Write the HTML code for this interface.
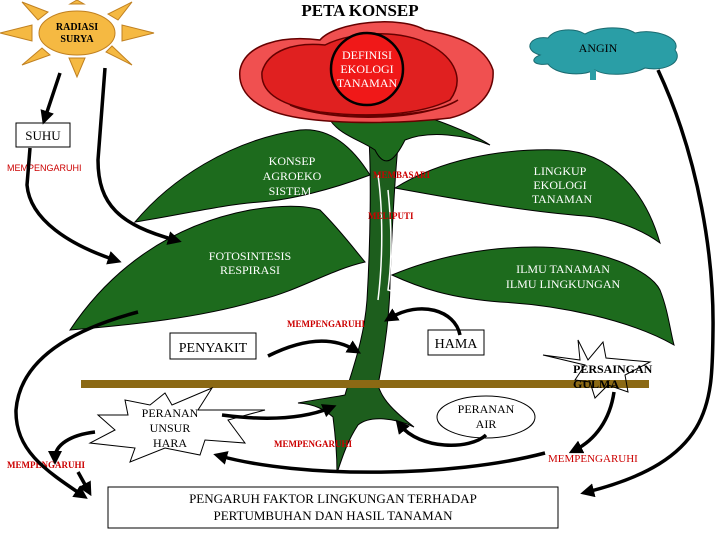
<!DOCTYPE html>
<html><head><meta charset="utf-8"><style>
body{margin:0;background:#fff;width:720px;height:540px;overflow:hidden}
svg{display:block}
.t{font-family:"Liberation Serif",serif}
.s{font-family:"Liberation Sans",sans-serif}
</style></head><body>
<svg width="720" height="540" viewBox="0 0 720 540" xmlns="http://www.w3.org/2000/svg">
<defs><marker id="a" markerWidth="4" markerHeight="4" refX="2" refY="2" orient="auto"><path d="M0,0 L4,2 L0,4z" fill="#000"/></marker></defs>
<text x="360" y="16" text-anchor="middle" class="t" font-size="17" font-weight="bold">PETA  KONSEP</text>
<!-- sun -->
<g fill="#f5b942" stroke="#c08020" stroke-width="1">
<polygon points="77,0 84,4 70,4"/><polygon points="77,77 69,58 85,58"/>
<polygon points="0,33 32,25 32,41"/><polygon points="154,33 122,25 122,41"/>
<polygon points="22,2 48,12 38,20"/><polygon points="132,2 108,14 118,20"/>
<polygon points="22,65 42,48 50,55"/><polygon points="132,65 106,52 112,46"/>
<ellipse cx="77" cy="33" rx="38" ry="22"/></g>
<text x="77" y="30" text-anchor="middle" class="t" font-size="10" font-weight="bold">RADIASI</text>
<text x="77" y="42" text-anchor="middle" class="t" font-size="10" font-weight="bold">SURYA</text>
<!-- cloud -->
<path d="M540,55 C522,50 530,35 548,38 C555,28 575,28 585,34 C600,26 625,26 635,33 C655,28 682,38 675,50 C684,62 665,72 645,68 C630,76 605,76 595,70 C580,77 555,74 548,64 C535,66 528,60 540,55z" fill="#2a9ea6" stroke="#1a6a70"/>
<path d="M590,70 L590,80 L596,80 L596,70z" fill="#2a9ea6"/>
<text x="598" y="52" text-anchor="middle" class="t" font-size="12">ANGIN</text>
<!-- stem -->
<path d="M368,125 C372,170 370,250 367,300 C364,340 352,370 345,395 C330,398 312,400 298,403 C315,404 325,410 333,417 C336,440 337,455 337,473 C343,455 348,440 358,425 C370,415 395,418 414,427 C395,412 382,400 378,385 C385,350 390,310 390,280 C392,230 395,170 400,125z" fill="#1d5e1d" stroke="#000"/>
<path d="M378,175 C383,210 383,260 378,300 M388,190 C392,230 392,260 388,290 L395,292" stroke="#fff" stroke-width="1.5" fill="none"/>
<!-- leaves -->
<g fill="#1d6b1d" stroke="#000" stroke-width="1">
<path d="M135,222 C170,180 230,140 300,130 C320,128 345,135 370,175 C330,190 290,200 260,202 C220,205 180,215 135,222z"/>
<path d="M70,330 C110,270 170,225 250,210 C280,205 305,205 320,210 C340,230 355,250 365,262 C330,270 300,290 260,300 C200,318 130,325 70,330z"/>
<path d="M395,188 C440,160 500,148 560,150 C610,152 645,190 660,243 C640,228 610,218 585,216 C530,212 460,200 395,188z"/>
<path d="M392,275 C440,255 490,247 535,247 C600,247 650,270 660,290 C668,310 670,330 674,345 C630,320 560,305 500,302 C450,298 420,288 392,275z"/>
<path d="M330,120 C345,108 400,108 430,118 C450,125 475,135 490,145 C465,135 430,130 405,140 C395,160 385,170 375,150 C360,140 340,135 330,120z"/>
</g>
<!-- rose -->
<g stroke="#600" stroke-width="1.5">
<path d="M240,70 C245,45 280,35 320,40 C335,22 400,15 425,30 C455,35 485,45 493,70 C495,95 475,112 450,118 C400,124 340,124 300,118 C260,112 237,95 240,70z" fill="#f05050"/>
<path d="M262,72 C268,50 295,42 325,45 C355,30 405,30 430,45 C455,58 465,80 450,100 C420,115 370,118 320,112 C285,106 260,95 262,72z" fill="#e02020"/>
<path d="M290,105 C330,122 420,122 458,100 C440,112 400,116 360,116 C330,116 305,112 290,105z" fill="#901010"/>
</g>
<circle cx="367" cy="69" r="36" fill="#f01818" stroke="#000" stroke-width="2.5"/>
<g class="t" font-size="12" fill="#fff" text-anchor="middle"><text x="367" y="59">DEFINISI</text><text x="367" y="73">EKOLOGI</text><text x="367" y="87">TANAMAN</text></g>
<!-- leaf texts -->
<g class="t" font-size="12" fill="#fff" text-anchor="middle">
<text x="292" y="165">KONSEP</text><text x="292" y="180">AGROEKO</text><text x="290" y="195">SISTEM</text>
<text x="560" y="175">LINGKUP</text><text x="560" y="189">EKOLOGI</text><text x="562" y="203">TANAMAN</text>
<text x="250" y="260">FOTOSINTESIS</text><text x="250" y="274">RESPIRASI</text>
<text x="563" y="273">ILMU TANAMAN</text><text x="563" y="288">ILMU LINGKUNGAN</text>
</g>
<g class="t" font-size="9" fill="#c00" font-weight="bold"><text x="373" y="178">MEMBASARI</text><text x="368" y="219">MELIPUTI</text><text x="287" y="327">MEMPENGARUHI</text><text x="274" y="447">MEMPENGARUHI</text><text x="7" y="468">MEMPENGARUHI</text></g>
<text x="548" y="462" class="t" font-size="11" fill="#c00">MEMPENGARUHI</text>
<text x="7" y="171" class="s" font-size="9" fill="#c00">MEMPENGARUHI</text>
<!-- boxes -->
<rect x="16" y="123" width="54" height="24" fill="#fff" stroke="#000"/><text x="43" y="140" text-anchor="middle" class="t" font-size="13">SUHU</text>
<rect x="170" y="333" width="86" height="26" fill="#fff" stroke="#000"/><text x="213" y="352" text-anchor="middle" class="t" font-size="14">PENYAKIT</text>
<rect x="428" y="330" width="56" height="25" fill="#fff" stroke="#000"/><text x="456" y="348" text-anchor="middle" class="t" font-size="14">HAMA</text>
<rect x="81" y="380" width="568" height="8" fill="#8b6914"/>
<!-- stars -->
<polygon points="165,393 172,405 212,388 198,410 265,410 228,420 245,443 205,440 200,455 165,448 130,462 135,448 90,443 115,430 98,415 128,415 125,400 150,405" fill="#fff" stroke="#000"/>
<g class="t" font-size="12" text-anchor="middle"><text x="170" y="417">PERANAN</text><text x="170" y="432">UNSUR</text><text x="170" y="447">HARA</text></g>
<polygon points="578,340 588,360 603,342 606,358 650,362 625,375 628,392 608,385 595,398 590,382 575,380 585,365 543,355 580,360" fill="none" stroke="#000"/>
<g class="t" font-size="12" font-weight="bold"><text x="573" y="373">PERSAINGAN</text><text x="573" y="388">GULMA</text></g>
<ellipse cx="486" cy="417" rx="49" ry="21" fill="#fff" stroke="#000"/>
<g class="t" font-size="12" text-anchor="middle"><text x="486" y="413">PERANAN</text><text x="486" y="428">AIR</text></g>
<rect x="108" y="487" width="450" height="41" fill="#fff" stroke="#000"/>
<g class="t" font-size="13" text-anchor="middle"><text x="333" y="503">PENGARUH FAKTOR LINGKUNGAN TERHADAP</text><text x="333" y="520">PERTUMBUHAN DAN HASIL TANAMAN</text></g>
<!-- arrows -->
<g fill="none" stroke="#000" stroke-width="3.5" marker-end="url(#a)">
<path d="M60,73 L45,118"/>
<path d="M105,68 L98,160 C98,205 120,225 175,240"/>
<path d="M30,148 L27,185 C30,220 70,245 115,260"/>
<path d="M658,70 C700,160 714,260 713,330 C712,400 715,460 587,492"/>
<path d="M138,312 C70,330 20,360 16,410 C15,450 45,470 82,495"/>
<path d="M268,356 C300,340 330,335 355,350"/>
<path d="M460,335 C455,310 420,300 390,318"/>
<path d="M222,415 C260,420 300,420 330,408"/>
<path d="M486,435 C470,450 420,450 400,425"/>
<path d="M545,453 C450,478 300,478 220,456"/>
<path d="M614,392 C610,420 595,440 575,450"/>
<path d="M95,432 C70,435 55,445 55,458"/>
<path d="M78,472 L88,490"/>
</g>
</svg>
</body></html>
